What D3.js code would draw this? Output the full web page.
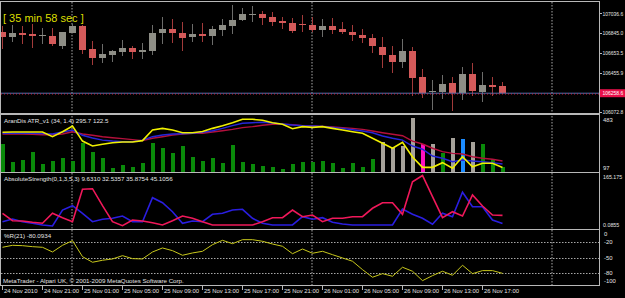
<!DOCTYPE html>
<html><head><meta charset="utf-8">
<script src="https://cdn.jsdelivr.net/npm/d3@7"></script>
<style>html,body{margin:0;padding:0;background:#000;overflow:hidden}svg{display:block}text{font-family:"Liberation Sans",Arial,sans-serif}</style>
</head><body><svg id="c" width="625" height="298"></svg>
<script>
// ---------- DATA ----------
const opens  = [106851,106806,106845,106835,106816,106816,106715,106848,106913,106686,106598,106634,106656,106699,106660,106673,106842,106880,106845,106803,106835,106819,106877,106916,106968,107023,107027,106997,106962,106942,106932,106923,106877,106916,106887,106858,106825,106796,106712,106634,106559,106670,106413,106270,106267,106355,106264,106446,106274,106335,106329];
const highs  = [106913,106923,106916,106932,106894,106894,106858,106932,106919,106767,106734,106679,106773,106721,106747,106919,106997,106981,106952,106932,106945,106913,106978,107117,107085,107111,107062,107046,106997,106988,107020,107004,106978,106988,106949,106923,106880,106835,106809,106721,106783,106705,106494,106387,106436,106413,106517,106553,106465,106420,106371];
const lows   = [106689,106754,106741,106702,106741,106721,106689,106842,106640,106530,106549,106562,106624,106595,106595,106627,106738,106751,106670,106754,106757,106725,106819,106838,106962,106955,106923,106910,106880,106842,106855,106851,106809,106832,106835,106770,106751,106650,106501,106459,106507,106235,106209,106095,106205,106085,106192,106235,106173,106232,106251];
const closes = [106809,106842,106825,106812,106822,106734,106851,106913,106676,106598,106637,106666,106699,106660,106679,106848,106880,106842,106799,106835,106819,106880,106919,106971,107027,107030,106994,106955,106939,106861,106926,106877,106916,106877,106855,106822,106793,106715,106627,106562,106670,106410,106264,106277,106345,106257,106446,106280,106338,106322,106258.6];

const priceTicks = [107036.6,106845.0,106653.5,106455.9,106072.8];
const timeLabels = ["24 Nov 2010","24 Nov 21:00","25 Nov 01:00","25 Nov 05:00","25 Nov 09:00","25 Nov 13:00","25 Nov 17:00","25 Nov 21:00","26 Nov 01:00","26 Nov 05:00","26 Nov 09:00","26 Nov 13:00","26 Nov 17:00"];
const timeLabelBars = [0,4,8,12,16,20,24,28,32,36,40,44,48];
const daySeparatorBars = [7,31,55];

// ATR panel
const atrHist = [286,161,173,229,147,168,187,166,293,232,191,120,140,125,152,293,258,227,274,196,168,187,156,281,161,147,135,125,111,147,161,161,168,152,120,152,125,180,300,258,276,470,286,286,227,328,321,304,290,182,123];
const atrHistColor = ["g","g","g","g","g","g","g","g","g","g","g","g","g","g","g","g","g","g","g","g","g","g","g","g","g","g","g","g","g","g","g","g","g","g","g","g","g","g","x","x","x","x","m","x","g","x","b","x","g","g","g"];
const atrYellow = [371,373,373,373,373,340,375,416,309,274,286,297,302,302,312,387,399,387,368,368,377,399,418,439,463,463,456,439,428,396,411,406,411,399,387,375,364,329,293,258,300,196,123,123,156,116,198,127,152,152,122.5];
const atrBlue   = [364,364,364,364,362,359,373,387,350,331,316,309,304,304,316,340,352,359,361,364,371,382,399,418,435,439,442,437,430,423,418,416,413,406,399,389,380,368,345,329,316,274,251,203,187,163,175,168,163,156,147];
const atrRed    = [359,359,359,357,354,354,359,375,359,350,340,333,326,319,312,329,340,352,359,364,364,373,382,392,404,411,421,428,428,425,418,416,413,409,404,399,392,380,368,357,347,309,288,258,234,222,217,198,187,180,168];
const atrScale = [97,483];

// AbsoluteStrength panel
const absBlue = [15.5,24.3,15.5,10.4,4.9,1.6,53.4,67.4,42.8,15.5,23.3,26.6,34.0,15.5,15.5,93.3,77.1,47.9,10.4,17.8,15.5,39.5,42.8,53.4,55.7,26.6,10.4,4.9,4.9,4.9,31.7,23.3,28.5,13.6,8.1,4.9,4.9,4.9,4.9,4.9,56.7,39.5,26.6,7.1,42.8,31.7,110.8,64.1,64.1,21.1,9.631];
const absRed  = [42.8,18.8,17.8,13.6,10.4,42.8,28.5,15.5,120.5,122.4,67.4,15.5,2.6,21.1,17.8,12.3,4.9,18.8,34.0,26.6,15.5,4.9,4.9,4.9,4.9,4.9,15.5,28.5,28.5,53.4,31.7,37.2,15.5,26.6,26.6,31.7,31.7,59.0,77.1,77.1,39.5,145.1,165.175,96.5,28.5,47.9,34.0,102.0,66.4,37.2,35.8754];
const absScale = [0,165.175];
const absMinLabel = "0.0855";

// %R panel
const wpr = [-30.1,-26.3,-27.0,-28.9,-30.1,-39.1,-26.3,-17.4,-48.1,-58.8,-55.0,-52.5,-46.2,-51.9,-52.5,-39.1,-31.4,-36.6,-45.4,-41.0,-37.8,-25.1,-16.7,-23.2,-15.5,-15.5,-18.6,-23.8,-28.2,-42.4,-33.4,-41.6,-37.8,-44.3,-50.6,-56.9,-73.0,-87.6,-80.7,-85.7,-68.4,-76.1,-94.1,-84.5,-76.1,-83.8,-64.6,-80.7,-74.9,-74.9,-80.0934];
const wprLevels = [-20,-50,-80];
const wprTicks = [0,-20,-50,-80,-100];

// ---------- DRAW ----------
const svg = d3.select("#c");
svg.append("rect").attr("width",625).attr("height",298).attr("fill","#000");

const L = 1, R = 599;
const x = d3.scaleLinear().domain([0,50]).range([2,502]);
const y = d3.scaleLinear().domain([106072.8,107036.6]).range([112.3,13.3]);
const ya = d3.scaleLinear().domain(atrScale).range([171,116.5]);
const yb = d3.scaleLinear().domain(absScale).range([226.5,175.5]);
const yw = d3.scaleLinear().domain([-100,0]).range([283.7,231.6]);
const idx = d3.range(opens.length);

const FG = "#e4e4e4", FS = 5.9;
const grid = svg.append("g");
daySeparatorBars.forEach(b=>{
  grid.append("line").attr("x1",x(b)).attr("x2",x(b)).attr("y1",2).attr("y2",285)
   .attr("stroke","#a8a8a8").attr("stroke-width",1).attr("stroke-dasharray","1.5,1.5");
});
wprLevels.forEach(v=>{
  grid.append("line").attr("x1",L).attr("x2",R).attr("y1",Math.round(yw(v))+0.5).attr("y2",Math.round(yw(v))+0.5)
   .attr("stroke","#a8a8a8").attr("stroke-dasharray","1.5,1.5");
});

// candles
const cg = svg.append("g").attr("shape-rendering","crispEdges");
idx.forEach(i=>{
  const up = closes[i] >= opens[i];
  const cx = Math.round(x(i));
  cg.append("line").attr("x1",cx+0.5).attr("x2",cx+0.5).attr("y1",y(highs[i])).attr("y2",y(lows[i]))
    .attr("stroke", up ? "#6c6c6a" : "#a23a3a").attr("stroke-width",1);
  const t = y(Math.max(opens[i],closes[i])), b = y(Math.min(opens[i],closes[i]));
  cg.append("rect").attr("x",cx-3).attr("width",7).attr("y",t).attr("height",Math.max(1,b-t))
    .attr("fill", up ? "#8e8e86" : "#d45a5a");
});

// current price line
const last = closes[closes.length-1];
svg.append("line").attr("x1",L).attr("x2",R).attr("y1",y(last)).attr("y2",y(last))
  .attr("stroke","#5070b0").attr("stroke-width",1);
svg.append("line").attr("x1",L).attr("x2",R).attr("y1",y(last)+0.8).attr("y2",y(last)+0.8)
  .attr("stroke","#d02040").attr("stroke-width",1).attr("stroke-dasharray","1,2");

// ATR histogram
const colMap = {g:"#0a8a0a", x:"#a6a29a", m:"#ff10c0", b:"#1c8cff"};
svg.append("g").attr("shape-rendering","crispEdges").selectAll("rect").data(idx).join("rect")
  .attr("x",i=>Math.round(x(i))-1).attr("width",4)
  .attr("y",i=>ya(atrHist[i])).attr("height",i=>173-ya(atrHist[i]))
  .attr("fill",i=>colMap[atrHistColor[i]]);

const lineA = d=>d3.line().x((v,i)=>x(i)+0.5).y(v=>ya(v))(d);
svg.append("path").attr("d",lineA(atrRed)).attr("fill","none").attr("stroke","#b4103c").attr("stroke-width",1.4);
svg.append("path").attr("d",lineA(atrBlue)).attr("fill","none").attr("stroke","#2626d8").attr("stroke-width",1.4);
svg.append("path").attr("d",lineA(atrYellow)).attr("fill","none").attr("stroke","#f0f000").attr("stroke-width",1.6);

// AbsoluteStrength lines
const lineB = d=>d3.line().x((v,i)=>x(i)+0.5).y(v=>yb(v))(d);
svg.append("path").attr("d",lineB(absBlue)).attr("fill","none").attr("stroke","#2a1ee0").attr("stroke-width",1.6);
svg.append("path").attr("d",lineB(absRed)).attr("fill","none").attr("stroke","#f0185a").attr("stroke-width",1.6);

// %R line
const lineW = d3.line().x((v,i)=>x(i)+0.5).y(v=>yw(v));
svg.append("path").attr("d",lineW(wpr)).attr("fill","none").attr("stroke","#c8c81c").attr("stroke-width",1);

// frame / separators
const fr = svg.append("g").attr("stroke","#b8b8b8").attr("shape-rendering","crispEdges");
fr.append("line").attr("x1",0).attr("x2",R).attr("y1",1.5).attr("y2",1.5);
fr.append("line").attr("x1",0.5).attr("x2",0.5).attr("y1",1).attr("y2",286);
fr.append("line").attr("x1",R+0.5).attr("x2",R+0.5).attr("y1",1).attr("y2",286);
[[113.5,2],[172.5,1],[229.5,1],[285.5,1]].forEach(([yy,w])=>{
  fr.append("line").attr("x1",0).attr("x2",R).attr("y1",yy).attr("y2",yy).attr("stroke-width",w);
});
const tk = svg.append("g").attr("stroke","#b8b8b8").attr("shape-rendering","crispEdges");

// right-axis labels, horizontally compressed to fit the narrow margin
const tx = svg.append("g").attr("fill",FG).attr("font-size",FS);
const rlab = (g,xx,yy,str,sx)=>g.append("text").attr("transform",`translate(${xx},${yy}) scale(${sx},1)`).text(str);
priceTicks.forEach((v,k)=>{
  const yy = y(v);
  tk.append("line").attr("x1",R).attr("x2",R+3).attr("y1",Math.round(yy)+0.5).attr("y2",Math.round(yy)+0.5);
  rlab(tx,602.5,k===priceTicks.length-1?yy+1.5:yy+2.2,d3.format(".1f")(v),0.84);
});
// current price box
svg.append("rect").attr("x",600).attr("y",y(last)-4).attr("width",25).attr("height",8).attr("fill","#e8104a");
rlab(svg.append("g").attr("fill","#fff").attr("font-size",FS),602.5,y(last)+2.2,d3.format(".1f")(last),0.84);

// ATR scale labels
tx.append("text").attr("x",603).attr("y",ya(atrScale[1])+5).text(atrScale[1]);
tx.append("text").attr("x",603).attr("y",ya(atrScale[0])-1.5).text(atrScale[0]);
// abs scale labels
rlab(tx,603,yb(absScale[1])+3.5,d3.format(".3f")(absScale[1]),0.9);
rlab(tx,603,yb(absScale[0])+0.5,absMinLabel,0.9);
// wpr labels
wprTicks.forEach(v=>{
  tx.append("text").attr("x",604).attr("y",yw(v)+(v===0?4.5:v===-100?-1:2.2)).text(v);
});

// time axis
timeLabels.forEach((t,k)=>{
  const xx = Math.round(x(timeLabelBars[k]));
  tk.append("line").attr("x1",xx+0.5).attr("x2",xx+0.5).attr("y1",286).attr("y2",290);
  tx.append("text").attr("x",xx+2).attr("y",292.5).text(t);
});

// titles
const tt = svg.append("g").attr("fill",FG).attr("font-size",6.2);
tt.append("text").attr("x",4).attr("y",122.5).text("AranDis ATR_v1 (34, 1.4)  295.7 122.5");
tt.append("text").attr("x",4).attr("y",180.5).text("AbsoluteStrength(0,1,3,5,3) 9.6310 32.5357 35.8754 45.1056");
tt.append("text").attr("x",4).attr("y",237.5).text("%R(21) -80.0934");
tt.append("text").attr("x",3).attr("y",283.3).text("MetaTrader - Alpari UK, \u00A9 2001-2009 MetaQuotes Software Corp.");

svg.append("text").attr("x",3).attr("y",21.5).attr("fill","#dede00").attr("font-size",11).text("[ 35 min 58 sec ]");
</script></body></html>
